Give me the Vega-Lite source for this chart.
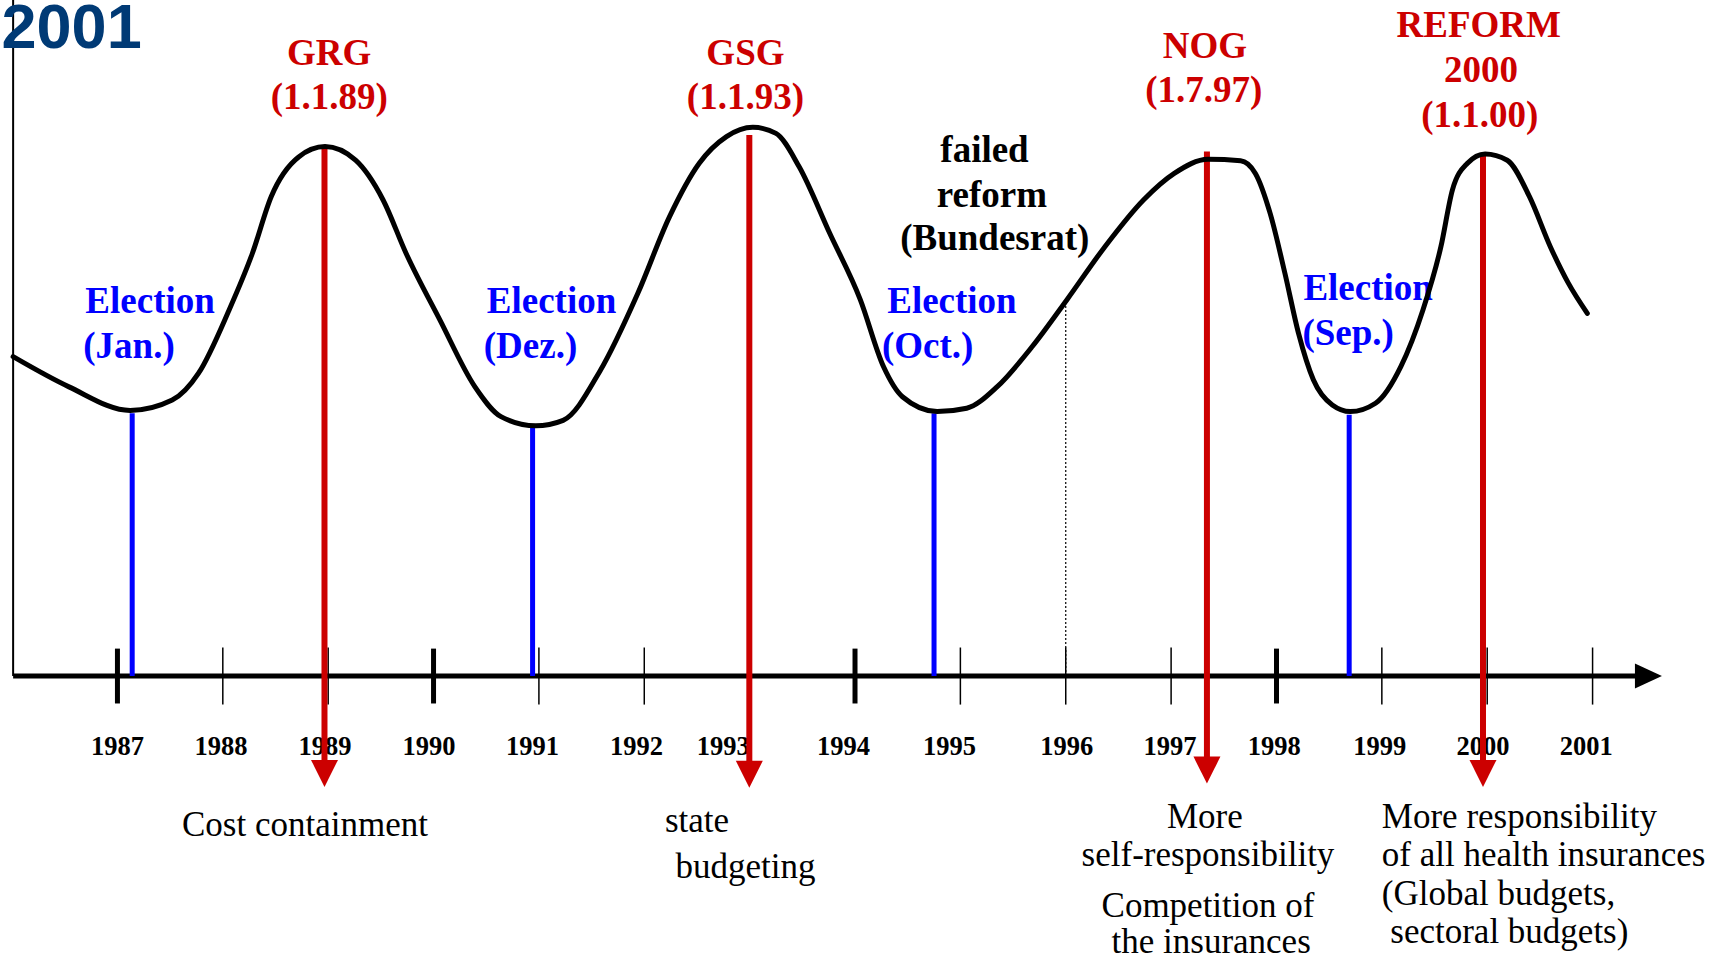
{
  "$schema": "https://vega.github.io/schema/vega-lite/v6.json",
  "width": 1721,
  "height": 957,
  "autosize": {"type": "none"},
  "padding": 0,
  "background": "white",
  "config": {"view": {"stroke": null}},
  "datasets": {
    "vaxis": [{"x": 1986.01, "y": 0, "y2": 616}],
    "haxis": [{"x": 1986.01, "x2": 2001.5, "y": 0}],
    "axisArrow": [{"x": 2001.53, "y": 0}],
    "ticks": [
      {"x": 1987, "y": -25, "y2": 25, "kind": "thick"},
      {"x": 1988, "y": -26, "y2": 26, "kind": "thin"},
      {"x": 1989, "y": -26, "y2": 26, "kind": "thin"},
      {"x": 1990, "y": -25, "y2": 25, "kind": "thick"},
      {"x": 1991, "y": -26, "y2": 26, "kind": "thin"},
      {"x": 1992, "y": -26, "y2": 26, "kind": "thin"},
      {"x": 1993, "y": -26, "y2": 26, "kind": "thin"},
      {"x": 1994, "y": -25, "y2": 25, "kind": "thick"},
      {"x": 1995, "y": -26, "y2": 26, "kind": "thin"},
      {"x": 1996, "y": -26, "y2": 26, "kind": "thin"},
      {"x": 1997, "y": -26, "y2": 26, "kind": "thin"},
      {"x": 1998, "y": -25, "y2": 25, "kind": "thick"},
      {"x": 1999, "y": -26, "y2": 26, "kind": "thin"},
      {"x": 2000, "y": -26, "y2": 26, "kind": "thin"},
      {"x": 2001, "y": -26, "y2": 26, "kind": "thin"}
    ],
    "dotted": [{"x": 1996.0, "y": 0, "y2": 344}],
    "years": [
      {"x": 1987.0, "y": -72, "label": "1987"},
      {"x": 1987.984, "y": -72, "label": "1988"},
      {"x": 1988.97, "y": -72, "label": "1989"},
      {"x": 1989.958, "y": -72, "label": "1990"},
      {"x": 1990.938, "y": -72, "label": "1991"},
      {"x": 1991.927, "y": -72, "label": "1992"},
      {"x": 1992.75, "y": -72, "label": "1993"},
      {"x": 1993.89, "y": -72, "label": "1994"},
      {"x": 1994.896, "y": -72, "label": "1995"},
      {"x": 1996.01, "y": -72, "label": "1996"},
      {"x": 1996.99, "y": -72, "label": "1997"},
      {"x": 1997.98, "y": -72, "label": "1998"},
      {"x": 1998.98, "y": -72, "label": "1999"},
      {"x": 1999.96, "y": -72, "label": "2000"},
      {"x": 2000.94, "y": -72, "label": "2001"}
    ],
    "elections": [
      {"x": 1987.14, "y": 0, "y2": 239.5},
      {"x": 1990.94, "y": 0, "y2": 226},
      {"x": 1994.75, "y": 0, "y2": 239.5},
      {"x": 1998.69, "y": 0, "y2": 238}
    ],
    "reforms": [
      {"x": 1988.965, "y": -80, "y2": 482},
      {"x": 1992.997, "y": -80, "y2": 493},
      {"x": 1997.34, "y": -78, "y2": 478},
      {"x": 1999.96, "y": -80, "y2": 475}
    ],
    "heads": [
      {"x": 1988.965, "y": -88.7},
      {"x": 1992.997, "y": -89.5},
      {"x": 1997.34, "y": -85.7},
      {"x": 1999.96, "y": -88.7}
    ],
    "descCenter": [
      {"x": 1988.78, "y": -145.7, "label": "Cost containment"},
      {"x": 1992.5, "y": -141.7, "label": "state"},
      {"x": 1992.96, "y": -184.2, "label": "budgeting"},
      {"x": 1997.32, "y": -138.7, "label": "More"},
      {"x": 1997.35, "y": -173, "label": "self-responsibility"},
      {"x": 1997.35, "y": -219.2, "label": "Competition of"},
      {"x": 1997.38, "y": -252.6, "label": "the insurances"}
    ],
    "descLeft": [
      {"x": 1999.0, "y": -138.7, "label": "More responsibility"},
      {"x": 1999.0, "y": -173, "label": "of all health insurances"},
      {"x": 1999.0, "y": -208.5, "label": "(Global budgets,"},
      {"x": 1999.08, "y": -242.9, "label": "sectoral budgets)"}
    ],
    "redLabels": [
      {"x": 1989.01, "y": 557, "label": "GRG"},
      {"x": 1989.01, "y": 517, "label": "(1.1.89)"},
      {"x": 1992.96, "y": 557, "label": "GSG"},
      {"x": 1992.96, "y": 517, "label": "(1.1.93)"},
      {"x": 1997.32, "y": 563, "label": "NOG"},
      {"x": 1997.31, "y": 523, "label": "(1.7.97)"},
      {"x": 1999.92, "y": 582.6, "label": "REFORM"},
      {"x": 1999.94, "y": 541.6, "label": "2000"},
      {"x": 1999.93, "y": 500.6, "label": "(1.1.00)"}
    ],
    "blueLabels": [
      {"x": 1987.31, "y": 330.5, "label": "Election"},
      {"x": 1987.11, "y": 290, "label": "(Jan.)"},
      {"x": 1991.12, "y": 330.5, "label": "Election"},
      {"x": 1990.92, "y": 290, "label": "(Dez.)"},
      {"x": 1994.92, "y": 330.5, "label": "Election"},
      {"x": 1994.69, "y": 290, "label": "(Oct.)"},
      {"x": 1998.87, "y": 342.7, "label": "Election"},
      {"x": 1998.68, "y": 302, "label": "(Sep.)"}
    ],
    "blackLabels": [
      {"x": 1995.229, "y": 468.7, "label": "failed"},
      {"x": 1995.299, "y": 427.7, "label": "reform"},
      {"x": 1995.326, "y": 388.2, "label": "(Bundesrat)"}
    ],
    "corner": [{"x": 1985.9, "y": 572, "label": "2001"}],
    "curve": [
      {"x": 1986.01, "y": 291}, {"x": 1986.54, "y": 263.5}, {"x": 1987.12, "y": 242},
      {"x": 1987.52, "y": 251.5}, {"x": 1987.77, "y": 276}, {"x": 1988.06, "y": 333.6},
      {"x": 1988.28, "y": 385}, {"x": 1988.46, "y": 437}, {"x": 1988.72, "y": 473},
      {"x": 1988.97, "y": 482.4}, {"x": 1989.26, "y": 470}, {"x": 1989.52, "y": 434},
      {"x": 1989.74, "y": 385}, {"x": 1990.06, "y": 324.5}, {"x": 1990.39, "y": 264},
      {"x": 1990.64, "y": 236.4}, {"x": 1990.97, "y": 228}, {"x": 1991.23, "y": 233},
      {"x": 1991.58, "y": 278}, {"x": 1991.94, "y": 349}, {"x": 1992.24, "y": 418.6},
      {"x": 1992.52, "y": 467}, {"x": 1992.78, "y": 491.5}, {"x": 1993.03, "y": 500},
      {"x": 1993.25, "y": 494.5}, {"x": 1993.47, "y": 464}, {"x": 1993.76, "y": 403.4},
      {"x": 1994.05, "y": 343}, {"x": 1994.27, "y": 282}, {"x": 1994.45, "y": 254.5},
      {"x": 1994.78, "y": 241}, {"x": 1995.06, "y": 244}, {"x": 1995.35, "y": 263.7},
      {"x": 1995.68, "y": 300}, {"x": 1996.01, "y": 342.7}, {"x": 1996.37, "y": 391},
      {"x": 1996.74, "y": 434}, {"x": 1997.03, "y": 458}, {"x": 1997.35, "y": 470.8},
      {"x": 1997.66, "y": 469.6}, {"x": 1997.80, "y": 458}, {"x": 1997.94, "y": 421.6},
      {"x": 1998.08, "y": 367}, {"x": 1998.21, "y": 312}, {"x": 1998.35, "y": 270},
      {"x": 1998.53, "y": 247}, {"x": 1998.70, "y": 241}, {"x": 1998.94, "y": 248.6},
      {"x": 1999.18, "y": 282}, {"x": 1999.39, "y": 333.6}, {"x": 1999.56, "y": 391},
      {"x": 1999.67, "y": 443}, {"x": 1999.81, "y": 467}, {"x": 1999.98, "y": 475.7},
      {"x": 2000.19, "y": 470}, {"x": 2000.40, "y": 437}, {"x": 2000.60, "y": 391},
      {"x": 2000.77, "y": 358}, {"x": 2000.95, "y": 330.5}
    ]
  },
  "encoding": {
    "x": {"field": "x", "type": "quantitative", "scale": {"domain": [1985.8854, 2002.2188], "nice": false, "zero": false}, "axis": null},
    "y": {"field": "y", "type": "quantitative", "scale": {"domain": [-256, 616], "nice": false, "zero": false}, "axis": null}
  },
  "layer": [
    {"data": {"name": "vaxis"}, "mark": {"type": "rule", "color": "black", "strokeWidth": 2}, "encoding": {"y2": {"field": "y2"}}},
    {"data": {"name": "haxis"}, "mark": {"type": "rule", "color": "black", "strokeWidth": 5}, "encoding": {"x2": {"field": "x2"}}},
    {"data": {"name": "axisArrow"}, "mark": {"type": "point", "shape": "M -1 -0.93 L 1 0 L -1 0.93 Z", "size": 729, "filled": true, "color": "black", "opacity": 1, "strokeWidth": 0}},
    {"data": {"name": "ticks"}, "transform": [{"filter": "datum.kind === 'thick'"}], "mark": {"type": "rule", "color": "black", "strokeWidth": 5}, "encoding": {"y2": {"field": "y2"}}},
    {"data": {"name": "ticks"}, "transform": [{"filter": "datum.kind === 'thin'"}], "mark": {"type": "rule", "color": "black", "strokeWidth": 1.5}, "encoding": {"y2": {"field": "y2"}}},
    {"data": {"name": "dotted"}, "mark": {"type": "rule", "color": "black", "strokeWidth": 1.2, "strokeDash": [2, 2]}, "encoding": {"y2": {"field": "y2"}}},
    {"data": {"name": "years"}, "mark": {"type": "text", "font": "Liberation Serif", "fontWeight": "bold", "fontSize": 26.5, "color": "black", "align": "center", "baseline": "alphabetic"}, "encoding": {"text": {"field": "label", "type": "nominal"}}},
    {"data": {"name": "elections"}, "mark": {"type": "rule", "color": "#0000FF", "strokeWidth": 5}, "encoding": {"y2": {"field": "y2"}}},
    {"data": {"name": "reforms"}, "mark": {"type": "rule", "color": "#CC0000", "strokeWidth": 6}, "encoding": {"y2": {"field": "y2"}}},
    {"data": {"name": "heads"}, "mark": {"type": "point", "shape": "M -1 -1 L 1 -1 L 0 1 Z", "size": 729, "filled": true, "color": "#CC0000", "opacity": 1, "strokeWidth": 0}},
    {"data": {"name": "descCenter"}, "mark": {"type": "text", "font": "Liberation Serif", "fontSize": 35, "color": "black", "align": "center", "baseline": "alphabetic"}, "encoding": {"text": {"field": "label", "type": "nominal"}}},
    {"data": {"name": "descLeft"}, "mark": {"type": "text", "font": "Liberation Serif", "fontSize": 35, "color": "black", "align": "left", "baseline": "alphabetic"}, "encoding": {"text": {"field": "label", "type": "nominal"}}},
    {"data": {"name": "redLabels"}, "mark": {"type": "text", "font": "Liberation Serif", "fontWeight": "bold", "fontSize": 37, "color": "#CC0000", "align": "center", "baseline": "alphabetic"}, "encoding": {"text": {"field": "label", "type": "nominal"}}},
    {"data": {"name": "blueLabels"}, "mark": {"type": "text", "font": "Liberation Serif", "fontWeight": "bold", "fontSize": 37, "color": "#0000FF", "align": "center", "baseline": "alphabetic"}, "encoding": {"text": {"field": "label", "type": "nominal"}}},
    {"data": {"name": "blackLabels"}, "mark": {"type": "text", "font": "Liberation Serif", "fontWeight": "bold", "fontSize": 37, "color": "black", "align": "center", "baseline": "alphabetic"}, "encoding": {"text": {"field": "label", "type": "nominal"}}},
    {"data": {"name": "corner"}, "mark": {"type": "text", "font": "Liberation Sans", "fontWeight": "bold", "fontSize": 63, "color": "#003A75", "align": "left", "baseline": "alphabetic"}, "encoding": {"text": {"field": "label", "type": "nominal"}}},
    {"data": {"name": "curve"}, "mark": {"type": "line", "color": "black", "strokeWidth": 5, "interpolate": "monotone", "strokeCap": "round", "strokeJoin": "round"}}
  ]
}
